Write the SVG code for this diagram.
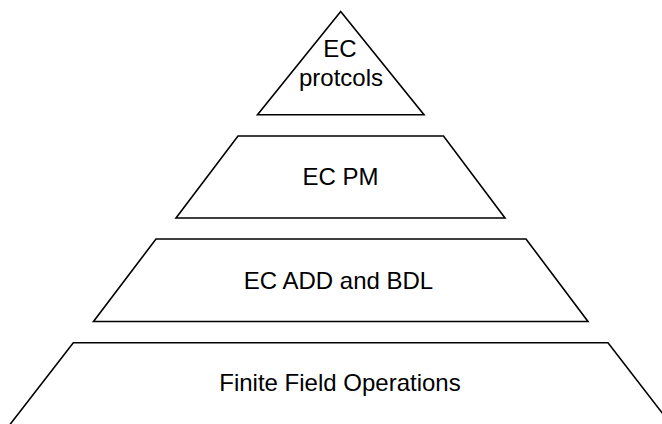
<svg xmlns="http://www.w3.org/2000/svg" width="662" height="424" viewBox="0 0 662 424">
<style>
.shape{fill:#ffffff;stroke:#000000;stroke-width:1.6;stroke-linejoin:miter}
.lbl{font-family:"Liberation Sans",Arial,sans-serif;font-size:24px;fill:#000000;text-anchor:middle}
</style>
<rect width="662" height="424" fill="#ffffff"/>
<g id="node-protocols">
<polygon class="shape" points="340.7,11.5 424,114.8 257.5,114.8"/>
<text class="lbl" x="340" y="57">EC</text>
<text class="lbl" x="341" y="86">protcols</text>
</g>
<g id="node-pm">
<polygon class="shape" points="238,136 443.5,136 505,218 176,218"/>
<text class="lbl" x="340.5" y="185">EC PM</text>
</g>
<g id="node-add">
<polygon class="shape" points="156,239 526,239 588,321.5 93.5,321.5"/>
<text class="lbl" x="338.5" y="289">EC ADD and BDL</text>
</g>
<g id="node-ff">
<polygon class="shape" points="73.3,342.7 608,342.7 683,440 -2,440"/>
<text class="lbl" x="340" y="391">Finite Field Operations</text>
</g>
<g id="connectors"></g>
</svg>
